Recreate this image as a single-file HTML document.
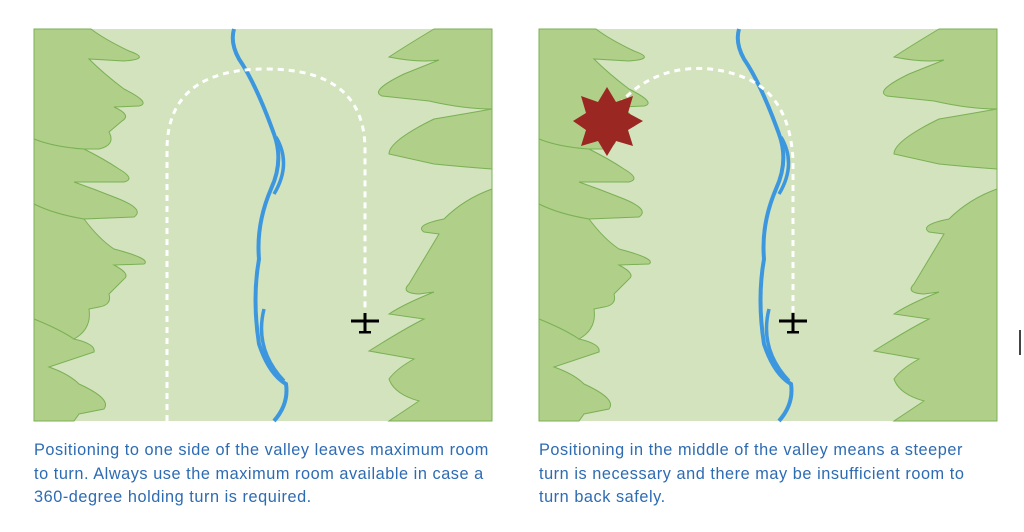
<!DOCTYPE html>
<html><head><style>
body{margin:0;background:#fff;width:1024px;height:532px;overflow:hidden;font-family:"Liberation Sans",sans-serif;}
.cap{position:absolute;top:439px;font-size:16.3px;line-height:23.5px;color:#2d6bb3;white-space:nowrap;letter-spacing:0.55px;}
</style></head><body>
<svg width="1024" height="532" style="position:absolute;left:0;top:0">
<defs>
<g id="terrain">
<rect x="0" y="0" width="458" height="392" fill="#d2e3bd"/>
<path d="M0,0 L57,0 Q70,10 95,22 Q118,30 90,32 L55,30 Q70,45 90,60 Q118,74 105,77 L80,78 Q98,86 88,92 L75,103 Q82,116 65,120 L50,120 Q70,130 85,140 Q102,150 90,153 L40,153 Q60,160 80,168 Q112,180 100,188 L50,190 Q65,210 80,220 Q118,230 110,235 L80,236 Q97,245 90,250 L75,265 Q78,276 65,278 L55,280 Q58,300 40,310 Q62,315 60,323 L15,338 Q35,345 45,355 Q78,370 70,380 L45,385 L40,392 L0,392 Z" fill="#b0cf88" stroke="#7ab055" stroke-width="1"/>
<path d="M0,110 Q20,118 50,120 M0,175 Q20,185 50,190 M0,290 Q25,300 40,310" fill="none" stroke="#7ab055" stroke-width="1"/>
<path d="M458,0 L400,0 Q370,18 355,28 Q385,34 405,31 L370,45 Q335,62 348,67 L395,72 Q430,80 458,80 Q430,85 400,90 Q355,112 355,125 L400,135 Q430,138 458,140 L458,160 Q430,170 410,190 Q380,196 390,203 L405,205 Q390,230 375,255 Q366,264 385,265 L400,263 Q370,275 355,285 L390,290 Q370,300 335,322 L380,330 Q362,340 355,350 Q360,365 385,372 L355,392 L458,392 Z" fill="#b0cf88" stroke="#7ab055" stroke-width="1"/>
<path d="M200,0 Q196,14 205,30 Q222,55 240,105 Q250,132 237,160 Q222,195 225,230 Q218,270 225,315 Q235,345 252,355 Q255,375 240,392" fill="none" stroke="#3d97de" stroke-width="4"/>
<path d="M242,108 Q258,135 240,165 M230,280 Q220,320 250,352" fill="none" stroke="#3d97de" stroke-width="3.5"/>
</g>
<g id="plane"><rect x="-14" y="-1.5" width="28" height="3" fill="#000"/><rect x="-1.5" y="-8" width="3" height="20" fill="#000"/><rect x="-6" y="10" width="12" height="2.5" fill="#000"/></g>
</defs>
<use href="#terrain" x="34" y="29"/>
<use href="#terrain" x="539" y="29"/>
<path d="M167,421 L167,150 Q167,69 266,69 Q365,69 365,150 L365,312" fill="none" stroke="#fff" stroke-width="3" stroke-dasharray="6,5"/>
<use href="#plane" x="365" y="321"/>
<path d="M793,312 L793,160 Q790,100 750,80 Q710,62 670,72 Q635,82 615,110" fill="none" stroke="#fff" stroke-width="3" stroke-dasharray="6,5"/>
<use href="#plane" x="793" y="321"/>
<polygon fill="#9b2722" points="607,87 616,102 633,96 628,113 643,121 628,130 633,146 616,141 607,156 598,141 581,146 586,130 573,121 586,113 581,96 598,102"/>
<rect x="1019" y="330" width="2" height="25" fill="#444"/>
</svg>
<div class="cap" style="left:34px">Positioning to one side of the valley leaves maximum room<br>to turn. Always use the maximum room available in case a<br>360-degree holding turn is required.</div>
<div class="cap" style="left:539px">Positioning in the middle of the valley means a steeper<br>turn is necessary and there may be insufficient room to<br>turn back safely.</div>
</body></html>
